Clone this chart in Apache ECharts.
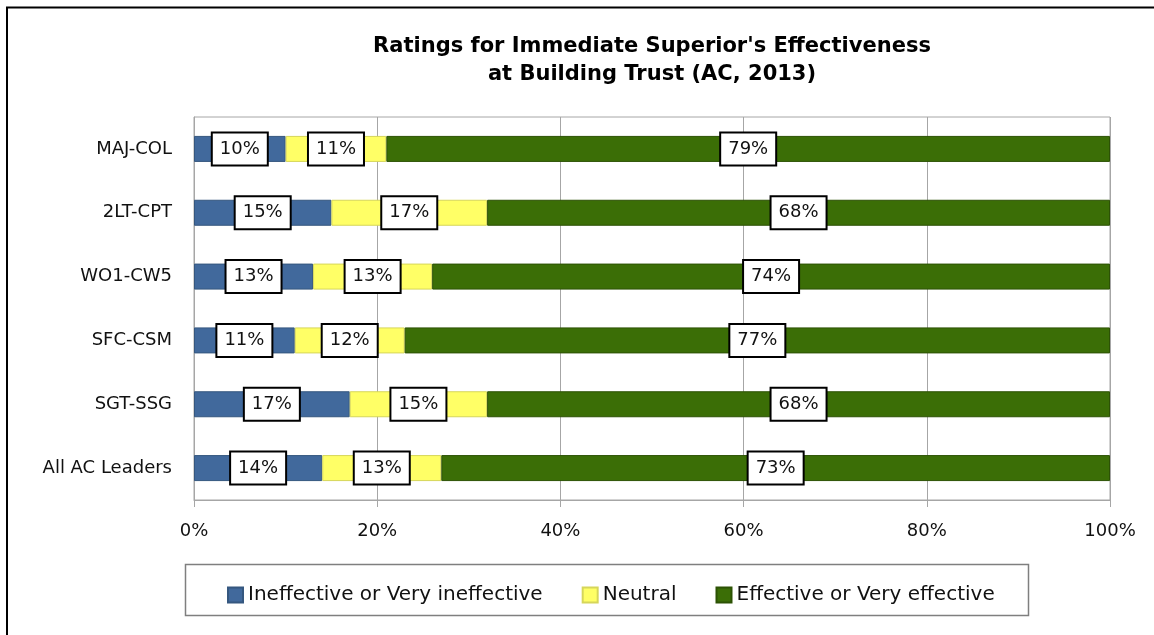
<!DOCTYPE html>
<html>
<head>
<meta charset="utf-8">
<title>Ratings for Immediate Superior's Effectiveness at Building Trust</title>
<script src="https://cdn.jsdelivr.net/npm/echarts@6/dist/echarts.min.js"></script>
<style>
	html, body { margin: 0; padding: 0; background: #fff; }
	#chart { width: 1154px; height: 635px; }
</style>
</head>
<body>
<div id="chart"></div>
<script>
// data, top row first
var categories = ['MAJ-COL', '2LT-CPT', 'WO1-CW5', 'SFC-CSM', 'SGT-SSG', 'All AC Leaders'];
var ineffective = [10, 15, 13, 11, 17, 14];
var neutral = [11, 17, 13, 12, 15, 13];
var effective = [79, 68, 74, 77, 68, 73];
var xTicks = [0, 20, 40, 60, 80, 100];

(function() {
	'use strict';

	var font = 'DejaVu Sans';
	var chart = echarts.init(document.getElementById('chart'));

	// white boxed % labels
	var boxLabel = {
		show: true,
		position: 'inside',
		formatter: '{c}%',
		color: '#111',
		fontFamily: font,
		fontSize: 18,
		backgroundColor: '#fff',
		borderColor: '#000',
		borderWidth: 2,
		padding: [7, 7, 6, 7]
	};

	function bar(name, data, color, border) {
		return {
			name: name,
			type: 'bar',
			stack: 'all',
			barWidth: 26,
			data: data,
			itemStyle: { color: color, borderColor: border, borderWidth: 1 },
			label: boxLabel,
			emphasis: { disabled: true }
		};
	}

	chart.setOption({
		animation: false,
		title: {
			text: "Ratings for Immediate Superior's Effectiveness\nat Building Trust (AC, 2013)",
			left: 647,
			top: 28,
			textAlign: 'center',
			textStyle: { fontFamily: font, fontSize: 21, fontWeight: 'bold', color: '#000', lineHeight: 28 }
		},
		legend: {
			left: 222,
			top: 580,
			icon: 'rect',
			itemWidth: 15,
			itemHeight: 15,
			itemGap: 39,
			textStyle: { fontFamily: font, fontSize: 20, color: '#111' },
			data: ['Ineffective or Very ineffective', 'Neutral', 'Effective or Very effective']
		},
		graphic: [
			{ type: 'rect', shape: { x: 7, y: 7.5, width: 1300, height: 800 }, style: { fill: null, stroke: '#000', lineWidth: 2 }, silent: true },
			{ type: 'rect', shape: { x: 185.5, y: 564.5, width: 843, height: 51 }, style: { fill: null, stroke: '#7f7f7f', lineWidth: 1.5 }, silent: true }
		],
		grid: {
			left: 194,
			right: 44,
			top: 117,
			bottom: 135,
			show: true,
			borderColor: '#a6a6a6',
			borderWidth: 1,
			backgroundColor: 'transparent'
		},
		xAxis: {
			type: 'value',
			min: xTicks[0],
			max: xTicks[xTicks.length - 1],
			interval: 20,
			axisLine: { show: true, lineStyle: { color: '#a6a6a6' } },
			axisTick: { show: true, length: 7, lineStyle: { color: '#a6a6a6' } },
			splitLine: { show: true, lineStyle: { color: '#a6a6a6' } },
			axisLabel: { formatter: '{value}%', fontFamily: font, fontSize: 18, color: '#111', margin: 22 }
		},
		yAxis: {
			type: 'category',
			inverse: true,
			data: categories,
			axisLine: { show: true, lineStyle: { color: '#a6a6a6' } },
			axisTick: { show: false },
			axisLabel: { fontFamily: font, fontSize: 18, color: '#111', margin: 22 }
		},
		series: [
			bar('Ineffective or Very ineffective', ineffective, '#41699c', '#35577f'),
			bar('Neutral', neutral, '#ffff66', '#d6d65a'),
			bar('Effective or Very effective', effective, '#3b6e06', '#2c5204')
		]
	});
})();
</script>
</body>
</html>
